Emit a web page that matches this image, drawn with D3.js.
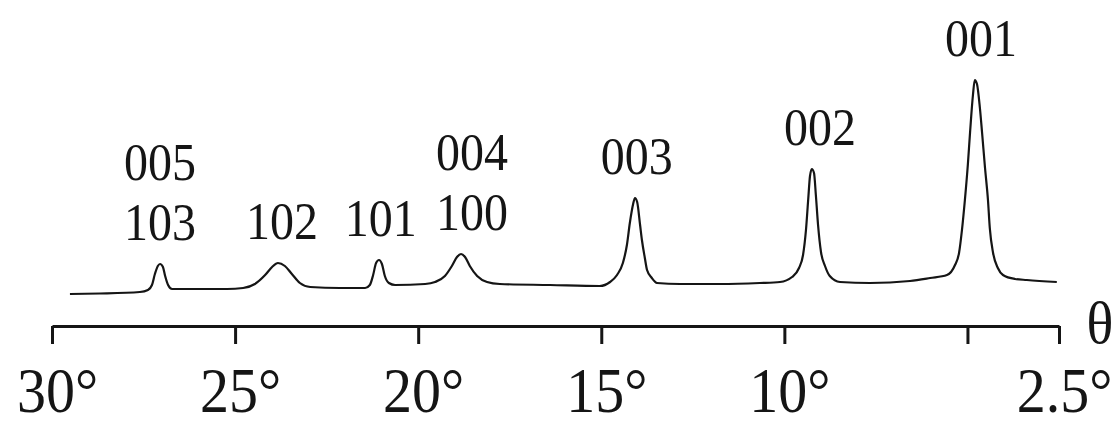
<!DOCTYPE html>
<html>
<head>
<meta charset="utf-8">
<script src="https://cdn.jsdelivr.net/npm/d3@7"></script>
<style>
  html, body { margin: 0; padding: 0; background: #fff; }
  svg { display: block; }
  text { font-family: "Liberation Serif", "DejaVu Serif", serif; fill: #151515; }
</style>
</head>
<body>
<svg id="chart" width="1119" height="425"></svg>
<script>
// ---- data ----
// angle θ (degrees) and intensity (arbitrary units), ordered from 30° to 2.5°
const theta = [
  29.51, 28.69, 27.60, 27.38, 27.27, 27.19, 27.11, 27.05, 26.97, 26.91, 26.83, 26.72,
  25.96, 25.22, 24.78, 24.46, 24.18, 23.99, 23.83, 23.64, 23.45, 23.23, 22.95, 22.14,
  21.45, 21.32, 21.23, 21.15, 21.07, 20.99, 20.91, 20.80, 20.63, 19.81,
  19.54, 19.27, 19.08, 18.94, 18.83, 18.72, 18.59, 18.39, 18.12, 17.77, 16.40, 15.04,
  14.76, 14.57, 14.41, 14.30, 14.22, 14.13, 14.08, 14.02, 13.94, 13.89, 13.81, 13.75,
  13.62, 13.48, 12.85, 11.76, 10.67,
  10.12, 9.79, 9.60, 9.49, 9.41, 9.35, 9.30, 9.25, 9.19, 9.14, 9.08, 9.00, 8.89, 8.76,
  8.48, 7.66, 6.57,
  6.02, 5.56, 5.34, 5.23, 5.15, 5.07, 4.99, 4.93, 4.85, 4.80, 4.74, 4.66, 4.60, 4.52,
  4.44, 4.39, 4.30, 4.17, 4.03, 3.70, 3.38, 2.56
];
const intensity = [
  6, 6.5, 8, 10, 15, 26, 34, 36, 33, 24, 15, 11,
  11, 11, 12, 16, 25, 33, 37, 34, 26, 17, 13, 12,
  12, 15, 25, 37, 40, 36, 24, 17, 15, 16,
  18, 24, 34, 43, 46, 43, 34, 24, 18, 16, 15, 14,
  18, 25, 37, 55, 77, 96, 102, 98, 75, 60, 42, 30,
  22, 17, 16, 16, 17,
  18, 23, 32, 45, 70, 100, 124, 131, 127, 105, 75, 48, 34, 24,
  18, 17, 19,
  22, 25, 35, 47, 70, 100, 135, 167, 205, 220, 216, 192, 167, 132,
  100, 72, 47, 32, 25, 21, 20, 18
];

const tickValues = [30, 25, 20, 15, 10, 5, 2.5];
const tickLabels = ["30°", "25°", "20°", "15°", "10°", "", "2.5°"];
const axisTitle = "θ";

// peak annotations: label lines (bottom to top), label centre angle, peak intensity
const peakLabels = [["001"], ["002"], ["003"], ["100", "004"], ["101"], ["102"], ["103", "005"]];
const peakTheta  = [4.63, 9.03, 14.03, 18.53, 21.02, 23.72, 27.05];
const peakTop    = [220, 131, 102, 46, 40, 37, 36];

// ---- drawing ----
const svg = d3.select("#chart");
const x = d3.scaleLinear().domain([30, 2.5]).range([52, 1059]);
const y = d3.scaleLinear().domain([0, 230]).range([300, 70]);

const pts = theta.map((t, i) => [t, intensity[i]]);
const line = d3.line()
  .x(d => x(d[0]))
  .y(d => y(d[1]))
  .curve(d3.curveMonotoneX);

svg.append("path")
  .datum(pts)
  .attr("d", line)
  .attr("fill", "none")
  .attr("stroke", "#151515")
  .attr("stroke-width", 2.2)
  .attr("stroke-linejoin", "round");

// x axis
const axisY = 326;
const axis = d3.axisBottom(x)
  .tickValues(tickValues)
  .tickSize(18)
  .tickSizeOuter(0)
  .tickFormat((d, i) => tickLabels[i]);

const gAxis = svg.append("g")
  .attr("transform", `translate(0,${axisY})`)
  .call(axis);

gAxis.select(".domain").attr("stroke", "#151515").attr("stroke-width", 3);
gAxis.selectAll(".tick line").attr("stroke", "#151515").attr("stroke-width", 3);
gAxis.selectAll(".tick text")
  .attr("y", 0)
  .attr("dy", 0)
  .attr("transform", "translate(5,86) scale(1,1.1)")
  .attr("font-size", 58)
  .attr("font-family", "'Liberation Serif', serif")
  .attr("fill", "#151515");

// axis title θ
svg.append("text")
  .attr("transform", `translate(1100,${axisY + 17}) scale(1,1.05)`)
  .attr("text-anchor", "middle")
  .attr("font-size", 56)
  .text(axisTitle);

// peak labels
peakLabels.forEach((lines, i) => {
  lines.forEach((lab, j) => {
    const ly = y(peakTop[i]) - 24 - j * 60;
    svg.append("text")
      .attr("transform", `translate(${x(peakTheta[i])},${ly}) scale(1,1.1)`)
      .attr("text-anchor", "middle")
      .attr("font-size", 48)
      .text(lab);
  });
});
</script>
</body>
</html>
